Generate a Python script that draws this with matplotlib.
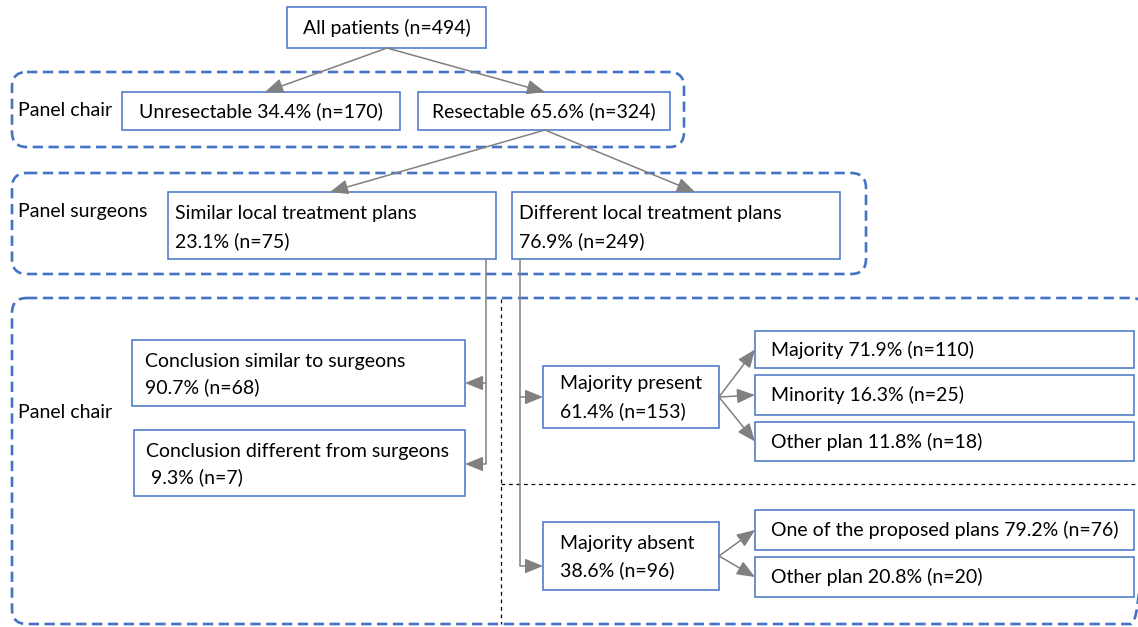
import matplotlib
matplotlib.use("Agg")
import matplotlib.pyplot as plt
from matplotlib.patches import Rectangle, FancyBboxPatch

# ---------------- data ----------------
total_n = 494
chair1_labels = ["Unresectable", "Resectable"]
chair1_pct = [34.4, 65.6]
chair1_n = [170, 324]

surgeon_labels = ["Similar local treatment plans", "Different local treatment plans"]
surgeon_pct = [23.1, 76.9]
surgeon_n = [75, 249]

similar_labels = ["Conclusion similar to surgeons", "Conclusion different from surgeons"]
similar_pct = [90.7, 9.3]
similar_n = [68, 7]

majority_labels = ["Majority present", "Majority absent"]
majority_pct = [61.4, 38.6]
majority_n = [153, 96]

present_labels = ["Majority", "Minority", "Other plan"]
present_pct = [71.9, 16.3, 11.8]
present_n = [110, 25, 18]

absent_labels = ["One of the proposed plans", "Other plan"]
absent_pct = [79.2, 20.8]
absent_n = [76, 20]

group_labels = ["Panel chair", "Panel surgeons", "Panel chair"]

# ---------------- style ----------------
plt.rcParams['font.family'] = ['Lato', 'DejaVu Sans']
FS = 14
BLUE = "#4472C4"
GRAY = "#808080"

fig = plt.figure(figsize=(11.38, 6.27), dpi=100)
ax = fig.add_axes([0, 0, 1, 1])
ax.set_xlim(0, 1138)
ax.set_ylim(627, 0)
ax.axis("off")


def box(x0, y0, x1, y1):
    ax.add_patch(Rectangle((x0, y0), x1 - x0, y1 - y0, fill=False,
                           edgecolor=BLUE, lw=1.1, zorder=3))


def group(x0, y0, x1, y1):
    ax.add_patch(FancyBboxPatch((x0, y0), x1 - x0, y1 - y0,
                                boxstyle="round,pad=0,rounding_size=15",
                                fill=False, edgecolor=BLUE, lw=1.9,
                                linestyle=(0, (3.9, 2.1)), zorder=2,
                                clip_on=True))


def arrow(x0, y0, x1, y1):
    ax.annotate("", xy=(x1, y1), xytext=(x0, y0),
                arrowprops=dict(arrowstyle="-|>,head_length=1.1,head_width=0.45",
                                color=GRAY, lw=1.1, shrinkA=0, shrinkB=0),
                zorder=4)


def line(xs, ys):
    ax.plot(xs, ys, color=GRAY, lw=1.1, zorder=4, solid_capstyle="butt")


def pct(p, n):
    return f"{p}% (n={n})"


# group (dashed) boxes
group(12, 72, 684, 147)
group(12, 173, 866, 274)
group(12, 298, 1146, 624)
ax.text(18, 110, group_labels[0], fontsize=FS, va="center", ha="left")
ax.text(18, 212, group_labels[1], fontsize=FS, va="center", ha="left")
ax.text(18, 413, group_labels[2], fontsize=FS, va="center", ha="left")

# black dotted separators
ax.plot([501, 501], [299, 624], color="black", lw=0.9, linestyle=(0, (3, 3)), zorder=2)
ax.plot([501, 1138], [484, 484], color="black", lw=0.9, linestyle=(0, (3, 3)), zorder=2)

# top
box(287, 7, 486, 48)
ax.text(386.5, 28, f"All patients (n={total_n})", fontsize=FS, ha="center", va="center")

# level 1
b1 = [(122, 92, 400, 130), (418, 92, 670, 130)]
for (x0, y0, x1, y1), lab, p, n in zip(b1, chair1_labels, chair1_pct, chair1_n):
    box(x0, y0, x1, y1)
    ax.text((x0 + x1) / 2, (y0 + y1) / 2, f"{lab} {pct(p, n)}", fontsize=FS,
            ha="center", va="center")
arrow(387, 48, 265, 92)
arrow(387, 48, 545, 92)

# level 2
b2 = [(168, 192, 496, 259), (512, 192, 840, 259)]
for (x0, y0, x1, y1), lab, p, n in zip(b2, surgeon_labels, surgeon_pct, surgeon_n):
    box(x0, y0, x1, y1)
    ax.text(x0 + 7, 214, lab, fontsize=FS, ha="left", va="center")
    ax.text(x0 + 7, 241, pct(p, n), fontsize=FS, ha="left", va="center")
arrow(545, 130, 330, 192)
arrow(545, 130, 695, 192)

# similar branch
b3 = [(132, 340, 465, 406), (134, 430, 465, 496)]
ay3 = [383, 464]
for (x0, y0, x1, y1) in b3:
    box(x0, y0, x1, y1)
ax.text(145, 362, similar_labels[0], fontsize=FS, ha="left", va="center")
ax.text(145, 387, pct(similar_pct[0], similar_n[0]), fontsize=FS, ha="left", va="center")
ax.text(146, 451, similar_labels[1], fontsize=FS, ha="left", va="center")
ax.text(146, 477, " " + pct(similar_pct[1], similar_n[1]), fontsize=FS, ha="left", va="center")
line([486, 486], [259, ay3[1]])
for y in ay3:
    arrow(486, y, 465, y)

# different branch
b4 = [(543, 366, 719, 428), (543, 522, 719, 590)]
ay4 = [397, 566]
for (x0, y0, x1, y1), lab, p, n in zip(b4, majority_labels, majority_pct, majority_n):
    box(x0, y0, x1, y1)
    cy = (y0 + y1) / 2
    ax.text(560, cy - 13, lab, fontsize=FS, ha="left", va="center")
    ax.text(560, cy + 14, pct(p, n), fontsize=FS, ha="left", va="center")
line([520, 520], [259, ay4[1]])
for y in ay4:
    arrow(520, y, 543, y)

# majority present outcomes
b5 = [(755, 331, 1134, 368), (755, 375, 1134, 415), (755, 422, 1134, 461)]
for (x0, y0, x1, y1), lab, p, n in zip(b5, present_labels, present_pct, present_n):
    box(x0, y0, x1, y1)
    ax.text(771, (y0 + y1) / 2, f"{lab} {pct(p, n)}", fontsize=FS, ha="left", va="center")
    arrow(719, 397, 755, (y0 + y1) / 2)

# majority absent outcomes
b6 = [(755, 510, 1134, 550), (755, 557, 1134, 597)]
for (x0, y0, x1, y1), lab, p, n in zip(b6, absent_labels, absent_pct, absent_n):
    box(x0, y0, x1, y1)
    ax.text(771, (y0 + y1) / 2, f"{lab} {pct(p, n)}", fontsize=FS, ha="left", va="center")
    arrow(719, 556, 755, (y0 + y1) / 2)

fig.savefig("out.png", dpi=100)
